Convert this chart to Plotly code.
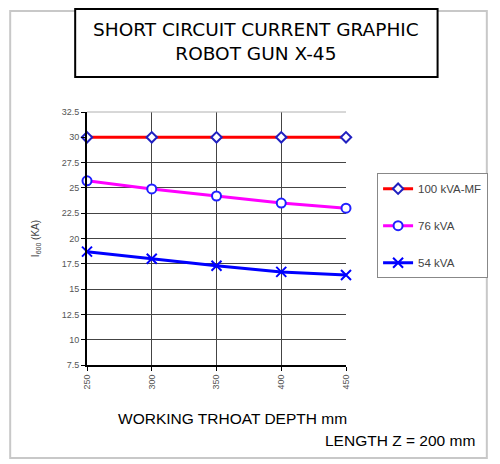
import plotly.graph_objects as go

depth = [250, 300, 350, 400, 450]
kva100 = [30, 30, 30, 30, 30]
kva76 = [25.7, 24.9, 24.2, 23.5, 23.0]
kva54 = [18.7, 18.0, 17.3, 16.7, 16.4]
yticks = [7.5, 10, 12.5, 15, 17.5, 20, 22.5, 25, 27.5, 30, 32.5]
ytick_text = ["7.5", "10", "12.5", "15", "17.5", "20", "22.5", "25", "27.5", "30", "32.5"]

fig = go.Figure()
fig.add_trace(go.Scatter(x=depth, y=kva100, name="100 kVA-MF", mode="lines+markers",
                         line=dict(color="#ff0000", width=3),
                         marker=dict(symbol="diamond", size=8, color="white",
                                     line=dict(color="#2020c0", width=2)),
                         legendgroup="a", cliponaxis=False))
fig.add_trace(go.Scatter(x=depth, y=kva76, name="76 kVA", mode="lines+markers",
                         line=dict(color="#ff00ff", width=3),
                         marker=dict(symbol="circle", size=9, color="white",
                                     line=dict(color="#2020ff", width=2)),
                         legendgroup="b", cliponaxis=False))
fig.add_trace(go.Scatter(x=depth, y=kva54, name="54 kVA", mode="lines+markers",
                         line=dict(color="#0000ff", width=3),
                         marker=dict(symbol="x-thin-open", size=10,
                                     line=dict(color="#00e0ff", width=2)),
                         legendgroup="c", cliponaxis=False))

font = "Liberation Sans, Arial, sans-serif"
# the page body has an 8px margin, so the figure is 8px smaller and offset
fig.update_layout(
    width=492, height=456,
    margin=dict(l=79, r=150, t=104, b=99),
    paper_bgcolor="white", plot_bgcolor="white",
    showlegend=True,
    legend=dict(x=1.12, y=0.758, xanchor="left", yanchor="top",
                bordercolor="#888888", borderwidth=1, bgcolor="white",
                font=dict(family=font, size=11.5, color="#444444"),
                tracegroupgap=18, itemwidth=30),
    xaxis=dict(range=[250, 450], tickmode="array", tickvals=depth,
               ticktext=[str(d) for d in depth], tickangle=-90,
               showgrid=True, gridcolor="#444444", gridwidth=1,
               showline=True, linecolor="black", linewidth=2,
               ticks="outside", ticklen=4, tickcolor="black",
               tickfont=dict(family=font, size=9, color="#555555"),
               zeroline=False),
    yaxis=dict(range=[7.5, 32.5], tickmode="array", tickvals=yticks,
               ticktext=ytick_text,
               showgrid=True, gridcolor="#444444", gridwidth=1,
               showline=True, linecolor="black", linewidth=2,
               ticks="outside", ticklen=4, tickcolor="black",
               tickfont=dict(family=font, size=9, color="#555555"),
               zeroline=False,
               title=dict(text="I<sub>600</sub> (KA)", standoff=20,
                          font=dict(family=font, size=10, color="#444444"))),
)


def px(x):
    return (x - 87) / 263.0


def py(y):
    return (365 - y) / 253.0


fig.layout.shapes = [
    dict(type="rect", xref="paper", yref="paper", x0=px(9), x1=px(493), y0=py(458), y1=py(11),
         line=dict(color="#c8c8c8", width=2), layer="below"),
    dict(type="line", xref="paper", yref="paper", x0=0, x1=1, y0=1, y1=1,
         line=dict(color="#b0b0b0", width=1)),
    dict(type="rect", xref="paper", yref="paper", x0=px(75), x1=px(443), y0=py(77), y1=py(9),
         line=dict(color="black", width=2), fillcolor="white"),
]

fig.add_annotation(text="SHORT CIRCUIT CURRENT GRAPHIC<br>ROBOT GUN X-45",
                   xref="paper", yref="paper", x=px(259), y=py(41), showarrow=False,
                   xanchor="center", yanchor="middle",
                   font=dict(family="DejaVu Sans, sans-serif", size=18.5, color="black"),
                   align="center")
fig.add_annotation(text="WORKING TRHOAT DEPTH mm", xref="paper", yref="paper",
                   x=px(235), y=py(418), showarrow=False,
                   xanchor="center", yanchor="middle",
                   font=dict(family=font, size=15.5, color="black"))
fig.add_annotation(text="LENGTH Z = 200 mm", xref="paper", yref="paper",
                   x=px(405), y=py(440), showarrow=False,
                   xanchor="center", yanchor="middle",
                   font=dict(family=font, size=15.5, color="black"))

fig.write_html("out.html")
